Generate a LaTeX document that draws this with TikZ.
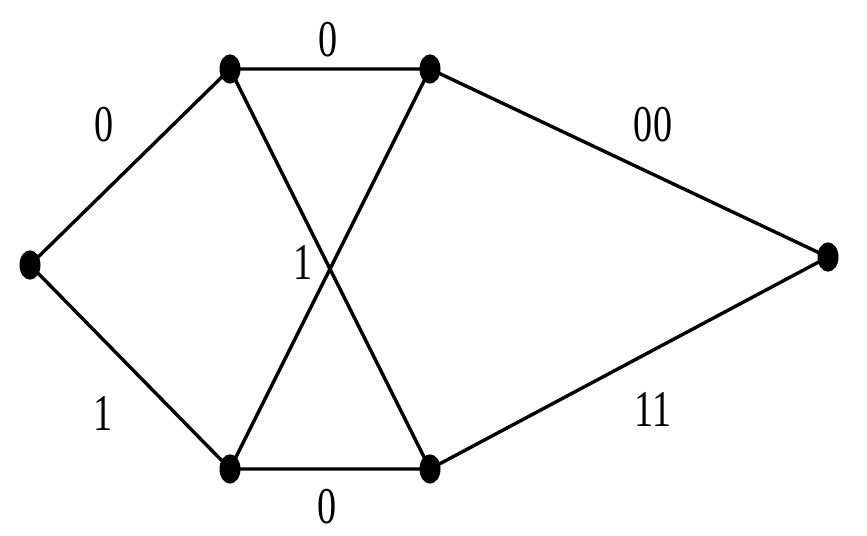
\documentclass[tikz,border=0pt]{standalone}
\usepackage{fontspec}
\setmainfont{Liberation Serif}[FakeStretch=0.74]
\usetikzlibrary{shapes}

\begin{document}
\begin{tikzpicture}[x=0.03cm, y=0.03cm,
    vertex/.style={ellipse, fill, inner sep=0pt, minimum width=0.63cm, minimum height=0.88cm},
    edgelab/.style={font=\fontsize{44}{46}\selectfont, inner sep=0pt}]
    \useasboundingbox (0, 0) rectangle (867, 536);

    \node [vertex] (l) at (30, 271) {};
    \node [vertex] (tl) at (230, 467) {};
    \node [vertex] (tr) at (430, 467) {};
    \node [vertex] (bl) at (230, 67) {};
    \node [vertex] (br) at (430, 67) {};
    \node [vertex] (r) at (828, 279) {};

    \draw [line width=2.9pt] (l.center) -- (tl.center) -- (tr.center) -- (r.center) -- (br.center) -- (bl.center) -- (l.center);
    \draw [line width=2.9pt] (tl.center) -- (br.center);
    \draw [line width=2.9pt] (tr.center) -- (bl.center);

    \node [edgelab] (a) at (104, 411) {0};
    \node [edgelab] (b) at (328, 496) {0};
    \node [edgelab] (c) at (653, 411) {00};
    \node [edgelab] (d) at (303, 274) {1};
    \node [edgelab] (e) at (103, 123) {1};
    \node [edgelab] (f) at (653, 127) {11};
    \node [edgelab] (g) at (327, 29) {0};
\end{tikzpicture}
\end{document}
